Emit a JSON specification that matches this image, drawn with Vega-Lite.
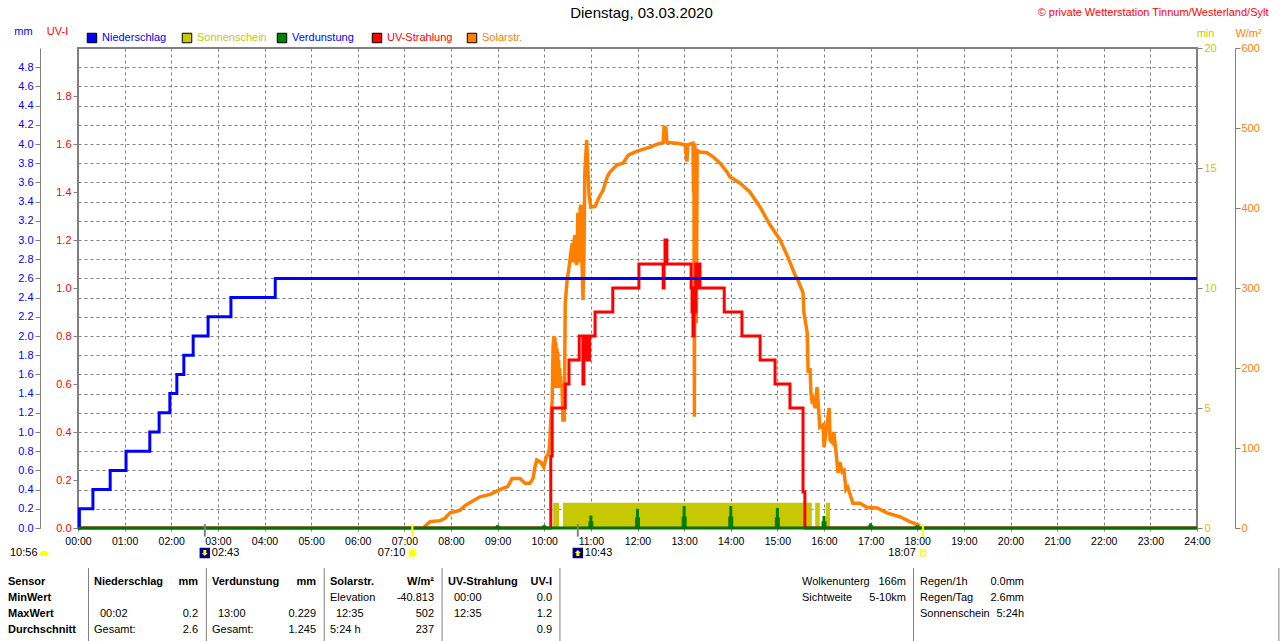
{
  "$schema": "https://vega.github.io/schema/vega-lite/v6.json",
  "autosize": {"type": "none"},
  "padding": {"left": 78, "top": 48, "right": 83, "bottom": 113},
  "width": 1119,
  "height": 480,
  "background": "#ffffff",
  "title": {"text": "Dienstag, 03.03.2020", "fontSize": 15, "fontWeight": "normal", "color": "#000000", "anchor": "middle", "dx": 4, "offset": -15},
  "datasets": {
    "precip": [
      {"h": 0, "mm": 0}, {"h": 0.03, "mm": 0.2}, {"h": 0.32, "mm": 0.4}, {"h": 0.69, "mm": 0.6}, {"h": 1.03, "mm": 0.8},
      {"h": 1.54, "mm": 1.0}, {"h": 1.74, "mm": 1.2}, {"h": 1.97, "mm": 1.4}, {"h": 2.12, "mm": 1.6}, {"h": 2.27, "mm": 1.8},
      {"h": 2.47, "mm": 2.0}, {"h": 2.79, "mm": 2.2}, {"h": 3.28, "mm": 2.4}, {"h": 4.23, "mm": 2.6}, {"h": 24, "mm": 2.6}
    ],
    "uv": [
      {"h": 0, "uv": 0}, {"h": 10.14, "uv": 0.3}, {"h": 10.17, "uv": 0.5}, {"h": 10.45, "uv": 0.6}, {"h": 10.53, "uv": 0.7},
      {"h": 10.75, "uv": 0.8}, {"h": 10.83, "uv": 0.6}, {"h": 10.85, "uv": 0.8}, {"h": 10.87, "uv": 0.7}, {"h": 10.89, "uv": 0.8},
      {"h": 10.91, "uv": 0.7}, {"h": 10.93, "uv": 0.8}, {"h": 10.95, "uv": 0.7}, {"h": 10.97, "uv": 0.8}, {"h": 11.09, "uv": 0.9},
      {"h": 11.47, "uv": 1.0}, {"h": 12.03, "uv": 1.1}, {"h": 12.55, "uv": 1.0}, {"h": 12.57, "uv": 1.1}, {"h": 12.59, "uv": 1.2},
      {"h": 12.63, "uv": 1.1}, {"h": 13.15, "uv": 1.0}, {"h": 13.17, "uv": 0.9}, {"h": 13.19, "uv": 0.8}, {"h": 13.21, "uv": 1.0},
      {"h": 13.23, "uv": 0.9}, {"h": 13.25, "uv": 1.1}, {"h": 13.28, "uv": 1.0}, {"h": 13.3, "uv": 1.1}, {"h": 13.34, "uv": 1.0},
      {"h": 13.86, "uv": 0.9}, {"h": 14.24, "uv": 0.8}, {"h": 14.63, "uv": 0.7}, {"h": 14.95, "uv": 0.6}, {"h": 15.27, "uv": 0.5},
      {"h": 15.55, "uv": 0.15}, {"h": 15.59, "uv": 0}, {"h": 24, "uv": 0}
    ],
    "solar": [
      {"h": 7.42, "w": 1}, {"h": 7.55, "w": 8}, {"h": 7.76, "w": 9}, {"h": 7.87, "w": 12}, {"h": 7.98, "w": 19}, {"h": 8.19, "w": 22},
      {"h": 8.3, "w": 28}, {"h": 8.41, "w": 32}, {"h": 8.62, "w": 39}, {"h": 8.84, "w": 42}, {"h": 9.05, "w": 48}, {"h": 9.22, "w": 52},
      {"h": 9.31, "w": 62}, {"h": 9.48, "w": 62}, {"h": 9.59, "w": 56}, {"h": 9.69, "w": 56}, {"h": 9.76, "w": 62}, {"h": 9.8, "w": 76},
      {"h": 9.84, "w": 85}, {"h": 9.93, "w": 82}, {"h": 9.99, "w": 76}, {"h": 10.04, "w": 88}, {"h": 10.1, "w": 95}, {"h": 10.12, "w": 110},
      {"h": 10.14, "w": 135}, {"h": 10.17, "w": 160}, {"h": 10.19, "w": 229}, {"h": 10.21, "w": 240}, {"h": 10.22, "w": 175}, {"h": 10.23, "w": 238},
      {"h": 10.24, "w": 175}, {"h": 10.25, "w": 232}, {"h": 10.26, "w": 175}, {"h": 10.27, "w": 225}, {"h": 10.28, "w": 175}, {"h": 10.29, "w": 220},
      {"h": 10.3, "w": 175}, {"h": 10.31, "w": 210}, {"h": 10.32, "w": 175}, {"h": 10.33, "w": 200}, {"h": 10.34, "w": 175}, {"h": 10.35, "w": 190},
      {"h": 10.36, "w": 175}, {"h": 10.38, "w": 180}, {"h": 10.4, "w": 135}, {"h": 10.43, "w": 135}, {"h": 10.45, "w": 281}, {"h": 10.49, "w": 310},
      {"h": 10.53, "w": 325}, {"h": 10.57, "w": 344}, {"h": 10.6, "w": 356}, {"h": 10.62, "w": 332}, {"h": 10.64, "w": 360}, {"h": 10.66, "w": 366},
      {"h": 10.68, "w": 332}, {"h": 10.7, "w": 329}, {"h": 10.72, "w": 394}, {"h": 10.75, "w": 332}, {"h": 10.77, "w": 400}, {"h": 10.79, "w": 404},
      {"h": 10.81, "w": 332}, {"h": 10.83, "w": 285}, {"h": 10.85, "w": 335}, {"h": 10.87, "w": 444}, {"h": 10.91, "w": 485}, {"h": 10.94, "w": 444},
      {"h": 10.96, "w": 416}, {"h": 11.0, "w": 401}, {"h": 11.09, "w": 402}, {"h": 11.15, "w": 410}, {"h": 11.2, "w": 416}, {"h": 11.26, "w": 422},
      {"h": 11.35, "w": 439}, {"h": 11.41, "w": 445}, {"h": 11.56, "w": 454}, {"h": 11.69, "w": 456}, {"h": 11.8, "w": 466}, {"h": 11.99, "w": 471},
      {"h": 12.27, "w": 476}, {"h": 12.44, "w": 480}, {"h": 12.55, "w": 482}, {"h": 12.57, "w": 501}, {"h": 12.61, "w": 500}, {"h": 12.63, "w": 482},
      {"h": 12.85, "w": 481}, {"h": 13.02, "w": 479}, {"h": 13.06, "w": 458}, {"h": 13.08, "w": 479}, {"h": 13.19, "w": 481}, {"h": 13.2, "w": 419},
      {"h": 13.21, "w": 481}, {"h": 13.22, "w": 139}, {"h": 13.23, "w": 481}, {"h": 13.24, "w": 344}, {"h": 13.25, "w": 470}, {"h": 13.26, "w": 256},
      {"h": 13.28, "w": 472}, {"h": 13.34, "w": 470}, {"h": 13.49, "w": 469},
      {"h": 13.62, "w": 464}, {"h": 13.77, "w": 456}, {"h": 13.92, "w": 445}, {"h": 13.98, "w": 439}, {"h": 14.2, "w": 431}, {"h": 14.41, "w": 420},
      {"h": 14.63, "w": 401}, {"h": 14.84, "w": 379}, {"h": 15.06, "w": 360}, {"h": 15.23, "w": 338}, {"h": 15.38, "w": 316}, {"h": 15.44, "w": 310},
      {"h": 15.55, "w": 294}, {"h": 15.57, "w": 269}, {"h": 15.64, "w": 244}, {"h": 15.66, "w": 194}, {"h": 15.7, "w": 200}, {"h": 15.72, "w": 169},
      {"h": 15.74, "w": 160}, {"h": 15.76, "w": 162}, {"h": 15.81, "w": 150}, {"h": 15.85, "w": 176}, {"h": 15.89, "w": 144}, {"h": 15.91, "w": 126},
      {"h": 15.98, "w": 129}, {"h": 16.0, "w": 101}, {"h": 16.11, "w": 150}, {"h": 16.13, "w": 110}, {"h": 16.19, "w": 106}, {"h": 16.21, "w": 120},
      {"h": 16.26, "w": 94}, {"h": 16.3, "w": 69}, {"h": 16.34, "w": 82}, {"h": 16.39, "w": 70}, {"h": 16.43, "w": 72}, {"h": 16.47, "w": 48},
      {"h": 16.51, "w": 51}, {"h": 16.58, "w": 38}, {"h": 16.62, "w": 31}, {"h": 16.77, "w": 31}, {"h": 16.92, "w": 26}, {"h": 17.14, "w": 25},
      {"h": 17.35, "w": 19}, {"h": 17.63, "w": 14}, {"h": 17.84, "w": 8}, {"h": 18.06, "w": 3}
    ],
    "sunshine": [
      {"h": 10.19, "h2": 10.32, "min": 1.05},
      {"h": 10.4, "h2": 15.74, "min": 1.05},
      {"h": 15.81, "h2": 15.91, "min": 1.05},
      {"h": 16.04, "h2": 16.13, "min": 1.05}
    ],
    "evap": [
      {"h": 9, "mm": 0.03, "low": 0.02}, {"h": 10, "mm": 0.03, "low": 0.02}, {"h": 11, "mm": 0.13, "low": 0.07}, {"h": 12, "mm": 0.2, "low": 0.11}, {"h": 13, "mm": 0.229, "low": 0.12},
      {"h": 14, "mm": 0.23, "low": 0.12}, {"h": 15, "mm": 0.21, "low": 0.11}, {"h": 16, "mm": 0.125, "low": 0.07}, {"h": 17, "mm": 0.05, "low": 0.03}, {"h": 18, "mm": 0.03, "low": 0.02}
    ],
    "events": [
      {"h": 2.72, "kind": "moon", "text": "02:43", "side": "after"},
      {"h": 10.72, "kind": "moon", "text": "10:43", "side": "after"},
      {"h": 7.17, "kind": "sun", "text": "07:10", "side": "before"},
      {"h": 18.12, "kind": "sun", "text": "18:07", "side": "before"}
    ],
    "series": [
      {"name": "Niederschlag", "swatch": "#0000ff", "label": "Blau"},
      {"name": "Sonnenschein", "swatch": "#c8c800", "label": "Oliv"},
      {"name": "Verdunstung", "swatch": "#008000", "label": "Blau"},
      {"name": "UV-Strahlung", "swatch": "#ff0000", "label": "Rot"},
      {"name": "Solarstr.", "swatch": "#ff8000", "label": "Orange"}
    ],
    "separators": [
      {"section": 1, "from": 0, "to": 1}, {"section": 2, "from": 0, "to": 1}, {"section": 3, "from": 0, "to": 1},
      {"section": 4, "from": 0, "to": 1}, {"section": 5, "from": 0, "to": 1}, {"section": 8, "from": 0, "to": 1},
      {"section": 11.1, "from": 0, "to": 1}
    ],
    "table": [
      {"block": "Sensor", "row": "Tag", "kind": "day", "text": "10:56"},
      {"block": "Sensor", "row": "Sensor", "kind": "rowhead", "text": "Sensor"},
      {"block": "Sensor", "row": "MinWert", "kind": "rowhead", "text": "MinWert"},
      {"block": "Sensor", "row": "MaxWert", "kind": "rowhead", "text": "MaxWert"},
      {"block": "Sensor", "row": "Durchschnitt", "kind": "rowhead", "text": "Durchschnitt"},
      {"block": "Niederschlag", "row": "Sensor", "kind": "head", "text": "Niederschlag"},
      {"block": "Niederschlag", "row": "Sensor", "kind": "unit", "text": "mm"},
      {"block": "Niederschlag", "row": "MaxWert", "kind": "time", "text": "00:02"},
      {"block": "Niederschlag", "row": "MaxWert", "kind": "value", "text": "0.2"},
      {"block": "Niederschlag", "row": "Durchschnitt", "kind": "cell", "text": "Gesamt:"},
      {"block": "Niederschlag", "row": "Durchschnitt", "kind": "value", "text": "2.6"},
      {"block": "Verdunstung", "row": "Sensor", "kind": "head", "text": "Verdunstung"},
      {"block": "Verdunstung", "row": "Sensor", "kind": "unit", "text": "mm"},
      {"block": "Verdunstung", "row": "MaxWert", "kind": "time", "text": "13:00"},
      {"block": "Verdunstung", "row": "MaxWert", "kind": "value", "text": "0.229"},
      {"block": "Verdunstung", "row": "Durchschnitt", "kind": "cell", "text": "Gesamt:"},
      {"block": "Verdunstung", "row": "Durchschnitt", "kind": "value", "text": "1.245"},
      {"block": "Solarstr.", "row": "Sensor", "kind": "head", "text": "Solarstr."},
      {"block": "Solarstr.", "row": "Sensor", "kind": "unit", "text": "W/m²"},
      {"block": "Solarstr.", "row": "MinWert", "kind": "cell", "text": "Elevation"},
      {"block": "Solarstr.", "row": "MinWert", "kind": "value", "text": "-40.813"},
      {"block": "Solarstr.", "row": "MaxWert", "kind": "time", "text": "12:35"},
      {"block": "Solarstr.", "row": "MaxWert", "kind": "value", "text": "502"},
      {"block": "Solarstr.", "row": "Durchschnitt", "kind": "cell", "text": "5:24 h"},
      {"block": "Solarstr.", "row": "Durchschnitt", "kind": "value", "text": "237"},
      {"block": "UV-Strahlung", "row": "Sensor", "kind": "head", "text": "UV-Strahlung"},
      {"block": "UV-Strahlung", "row": "Sensor", "kind": "unit", "text": "UV-I"},
      {"block": "UV-Strahlung", "row": "MinWert", "kind": "time", "text": "00:00"},
      {"block": "UV-Strahlung", "row": "MinWert", "kind": "value", "text": "0.0"},
      {"block": "UV-Strahlung", "row": "MaxWert", "kind": "time", "text": "12:35"},
      {"block": "UV-Strahlung", "row": "MaxWert", "kind": "value", "text": "1.2"},
      {"block": "UV-Strahlung", "row": "Durchschnitt", "kind": "value", "text": "0.9"},
      {"block": "Wolken", "row": "Sensor", "kind": "cell", "text": "Wolkenunterg"},
      {"block": "Wolken", "row": "Sensor", "kind": "value", "text": "166m"},
      {"block": "Wolken", "row": "MinWert", "kind": "cell", "text": "Sichtweite"},
      {"block": "Wolken", "row": "MinWert", "kind": "value", "text": "5-10km"},
      {"block": "Regen", "row": "Sensor", "kind": "cell", "text": "Regen/1h"},
      {"block": "Regen", "row": "Sensor", "kind": "value", "text": "0.0mm"},
      {"block": "Regen", "row": "MinWert", "kind": "cell", "text": "Regen/Tag"},
      {"block": "Regen", "row": "MinWert", "kind": "value", "text": "2.6mm"},
      {"block": "Regen", "row": "MaxWert", "kind": "cell", "text": "Sonnenschein"},
      {"block": "Regen", "row": "MaxWert", "kind": "value", "text": "5:24h"}
    ]
  },
  "resolve": {
    "scale": {"x": "independent", "y": "independent", "color": "independent"},
    "axis": {"x": "independent", "y": "independent"}
  },
  "layer": [
    {
      "data": {"name": "sunshine"},
      "mark": {"type": "rect", "color": "#c8c800"},
      "encoding": {
        "x": {"field": "h", "type": "quantitative", "scale": {"domain": [0, 24]}, "axis": null},
        "x2": {"field": "h2"},
        "y": {
          "field": "min", "type": "quantitative", "scale": {"domain": [0, 20]},
          "axis": {
            "orient": "right", "values": [0, 5, 10, 15, 20], "title": "min", "titleAngle": 0, "titleColor": "#c8c800",
            "titleX": 8, "titleY": -10, "titleFontWeight": "normal", "titleFontSize": 11, "titleAlign": "center",
            "labelColor": "#c8c800", "tickColor": "#808080", "tickSize": 5, "domain": false, "grid": false, "labelPadding": 2
          }
        },
        "y2": {"datum": 0}
      }
    },
    {
      "data": {"name": "solar"},
      "mark": {"type": "line", "color": "#ff8000", "strokeWidth": 3.5, "interpolate": "linear"},
      "encoding": {
        "x": {"field": "h", "type": "quantitative", "scale": {"domain": [0, 24]}, "axis": null},
        "y": {
          "field": "w", "type": "quantitative", "scale": {"domain": [0, 600]},
          "axis": {
            "orient": "right", "offset": 38, "values": [0, 100, 200, 300, 400, 500, 600], "title": "W/m²", "titleAngle": 0, "titleColor": "#ff8000",
            "titleX": 13, "titleY": -10, "titleFontWeight": "normal", "titleFontSize": 11, "titleAlign": "center",
            "labelColor": "#ff8000", "tickColor": "#808080", "tickSize": 5, "domain": true, "domainColor": "#808080", "grid": false, "labelPadding": 1
          }
        }
      }
    },
    {
      "data": {"name": "uv"},
      "mark": {"type": "line", "color": "#ff0000", "strokeWidth": 3, "interpolate": "step-after"},
      "encoding": {
        "x": {"field": "h", "type": "quantitative", "scale": {"domain": [0, 24]}, "axis": null},
        "y": {
          "field": "uv", "type": "quantitative", "scale": {"domain": [0, 2]},
          "axis": {
            "orient": "left", "values": [0, 0.2, 0.4, 0.6, 0.8, 1.0, 1.2, 1.4, 1.6, 1.8], "format": ".1f", "title": "UV-I", "titleAngle": 0, "titleColor": "#ff0000",
            "titleX": -21, "titleY": -12, "titleFontWeight": "normal", "titleFontSize": 11, "titleAlign": "center",
            "labelColor": "#ff0000", "tickColor": "#808080", "tickSize": 5, "domain": false, "grid": false, "labelPadding": 2
          }
        }
      }
    },
    {
      "data": {"name": "precip"},
      "mark": {"type": "line", "color": "#0000ff", "strokeWidth": 3, "interpolate": "step-after"},
      "encoding": {
        "x": {
          "field": "h", "type": "quantitative", "scale": {"domain": [0, 24]},
          "axis": {
            "values": [0, 1, 2, 3, 4, 5, 6, 7, 8, 9, 10, 11, 12, 13, 14, 15, 16, 17, 18, 19, 20, 21, 22, 23, 24],
            "labelExpr": "(datum.value < 10 ? '0' : '') + datum.value + ':00'",
            "labelColor": "#000000", "labelFontSize": 10.5, "labelPadding": 5, "labelFlush": false, "labelOverlap": false,
            "tickColor": "#808080", "tickSize": 3, "domain": false, "title": null,
            "grid": true, "gridColor": "#808080", "gridDash": [3, 3], "gridWidth": 1
          }
        },
        "y": {
          "field": "mm", "type": "quantitative", "scale": {"domain": [0, 5]},
          "axis": {
            "orient": "left", "offset": 38, "format": ".1f",
            "values": [0, 0.2, 0.4, 0.6, 0.8, 1.0, 1.2, 1.4, 1.6, 1.8, 2.0, 2.2, 2.4, 2.6, 2.8, 3.0, 3.2, 3.4, 3.6, 3.8, 4.0, 4.2, 4.4, 4.6, 4.8],
            "title": "mm", "titleAngle": 0, "titleColor": "#0000ff", "titleX": -17, "titleY": -12, "titleFontWeight": "normal", "titleFontSize": 11, "titleAlign": "center",
            "labelColor": "#0000ff", "labelOverlap": false, "tickColor": "#808080", "tickSize": 5, "domain": true, "domainColor": "#808080", "grid": false, "labelPadding": 2
          }
        }
      }
    },
    {
      "data": {"name": "evap"},
      "mark": {"type": "rule", "color": "#008000", "strokeWidth": 3},
      "encoding": {
        "x": {"field": "h", "type": "quantitative", "scale": {"domain": [0, 24]}, "axis": null},
        "y": {"field": "mm", "type": "quantitative", "scale": {"domain": [0, 5]}, "axis": null},
        "y2": {"datum": 0}
      }
    },
    {
      "data": {"name": "evap"},
      "mark": {"type": "rule", "color": "#008000", "strokeWidth": 5},
      "encoding": {
        "x": {"field": "h", "type": "quantitative", "scale": {"domain": [0, 24]}, "axis": null},
        "y": {"field": "low", "type": "quantitative", "scale": {"domain": [0, 5]}, "axis": null},
        "y2": {"datum": 0}
      }
    },
    {
      "data": {"values": [{"h": 0, "h2": 24, "mm": 0}]},
      "mark": {"type": "rule", "color": "#007000", "strokeWidth": 3},
      "encoding": {
        "x": {
          "field": "h", "type": "quantitative", "scale": {"domain": [0, 24]},
          "axis": {
            "orient": "top", "labels": false, "ticks": false, "domain": false, "grid": false,
            "title": "© private Wetterstation Tinnum/Westerland/Sylt", "titleColor": "#ff0000", "titleFontWeight": "normal", "titleFontSize": 11,
            "titleAlign": "right", "titleAnchor": "end", "titleX": 1190, "titleY": -31
          }
        },
        "x2": {"field": "h2"},
        "y": {
          "field": "mm", "type": "quantitative", "scale": {"domain": [0, 5]},
          "axis": {
            "orient": "left", "labels": false, "ticks": false, "domain": false, "title": null,
            "values": [0.2, 0.4, 0.6, 0.8, 1.0, 1.2, 1.4, 1.6, 1.8, 2.0, 2.2, 2.4, 2.6, 2.8, 3.0, 3.2, 3.4, 3.6, 3.8, 4.0, 4.2, 4.4, 4.6, 4.8],
            "grid": true, "gridColor": "#808080", "gridDash": [3, 3], "gridWidth": 1
          }
        }
      }
    },
    {
      "data": {"name": "events"},
      "mark": {"type": "rule", "strokeWidth": 2},
      "encoding": {
        "x": {"field": "h", "type": "quantitative", "scale": {"domain": [0, 24]}, "axis": null},
        "y": {"datum": 0.04, "type": "quantitative", "scale": {"domain": [0, 5]}, "axis": null},
        "y2": {"datum": -0.09},
        "color": {"field": "kind", "type": "nominal", "scale": {"domain": ["moon", "sun"], "range": ["#808080", "#ffff00"]}, "legend": null}
      }
    },
    {
      "data": {"name": "events"},
      "transform": [{"filter": "datum.kind == 'moon'"}],
      "mark": {"type": "point", "shape": "square", "filled": true, "color": "#000080", "size": 110, "opacity": 1},
      "encoding": {
        "x": {"field": "h", "type": "quantitative", "scale": {"domain": [0, 24]}, "axis": null},
        "y": {"field": "kind", "type": "nominal", "scale": {"domain": ["moon"], "range": [505, 505]}, "axis": null}
      }
    },
    {
      "data": {"values": [{"h": 2.72, "icon": "moonset"}]},
      "mark": {"type": "point", "shape": "M-0.5,-1L0.5,-1L0.5,0L1,0L0,1L-1,0L-0.5,0Z", "filled": true, "color": "#ffff00", "size": 36, "opacity": 1},
      "encoding": {
        "x": {"field": "h", "type": "quantitative", "scale": {"domain": [0, 24]}, "axis": null},
        "y": {"field": "icon", "type": "nominal", "scale": {"domain": ["moonset"], "range": [505, 505]}, "axis": null}
      }
    },
    {
      "data": {"values": [{"h": 10.72, "icon": "moonrise"}]},
      "mark": {"type": "point", "shape": "M-0.5,1L0.5,1L0.5,0L1,0L0,-1L-1,0L-0.5,0Z", "filled": true, "color": "#ffff00", "size": 36, "opacity": 1},
      "encoding": {
        "x": {"field": "h", "type": "quantitative", "scale": {"domain": [0, 24]}, "axis": null},
        "y": {"field": "icon", "type": "nominal", "scale": {"domain": ["moonrise"], "range": [505, 505]}, "axis": null}
      }
    },
    {
      "data": {"values": [{"h": 7.17, "icon": "sunrise"}]},
      "mark": {"type": "point", "shape": "circle", "filled": true, "color": "#ffff00", "size": 50, "opacity": 1},
      "encoding": {
        "x": {"field": "h", "type": "quantitative", "scale": {"domain": [0, 24]}, "axis": null},
        "y": {"field": "icon", "type": "nominal", "scale": {"domain": ["sunrise"], "range": [505, 505]}, "axis": null}
      }
    },
    {
      "data": {"values": [{"h": 7.17, "icon": "rays"}]},
      "mark": {"type": "point", "shape": "M0,-1L0,1M-1,0L1,0M-0.7,-0.7L0.7,0.7M-0.7,0.7L0.7,-0.7", "filled": false, "color": "#ffff00", "size": 130, "strokeWidth": 1, "opacity": 1},
      "encoding": {
        "x": {"field": "h", "type": "quantitative", "scale": {"domain": [0, 24]}, "axis": null},
        "y": {"field": "icon", "type": "nominal", "scale": {"domain": ["rays"], "range": [505, 505]}, "axis": null}
      }
    },
    {
      "data": {"values": [{"h": 18.12, "icon": "sunset"}]},
      "mark": {"type": "point", "shape": "square", "filled": false, "color": "#ffff00", "size": 28, "strokeWidth": 1.5, "opacity": 1},
      "encoding": {
        "x": {"field": "h", "type": "quantitative", "scale": {"domain": [0, 24]}, "axis": null},
        "y": {"field": "icon", "type": "nominal", "scale": {"domain": ["sunset"], "range": [505, 505]}, "axis": null}
      }
    },
    {
      "data": {"name": "events"},
      "transform": [{"filter": "datum.side == 'after'"}],
      "mark": {"type": "text", "align": "left", "baseline": "middle", "dx": 7, "fontSize": 11, "color": "#000000"},
      "encoding": {
        "x": {"field": "h", "type": "quantitative", "scale": {"domain": [0, 24]}, "axis": null},
        "y": {"field": "side", "type": "nominal", "scale": {"domain": ["after"], "range": [505, 505]}, "axis": null},
        "text": {"field": "text", "type": "nominal"}
      }
    },
    {
      "data": {"name": "events"},
      "transform": [{"filter": "datum.side == 'before'"}],
      "mark": {"type": "text", "align": "right", "baseline": "middle", "dx": -7, "fontSize": 11, "color": "#000000"},
      "encoding": {
        "x": {"field": "h", "type": "quantitative", "scale": {"domain": [0, 24]}, "axis": null},
        "y": {"field": "side", "type": "nominal", "scale": {"domain": ["before"], "range": [505, 505]}, "axis": null},
        "text": {"field": "text", "type": "nominal"}
      }
    },
    {
      "data": {"name": "series"},
      "mark": {"type": "point", "shape": "square", "filled": true, "size": 90, "stroke": "#000000", "strokeWidth": 1, "opacity": 1},
      "encoding": {
        "x": {"field": "name", "type": "nominal", "sort": null, "scale": {"domain": ["Niederschlag", "Sonnenschein", "Verdunstung", "UV-Strahlung", "Solarstr."], "range": [14, 394], "padding": 0}, "axis": null},
        "y": {"datum": "Legende", "type": "nominal", "scale": {"domain": ["Legende"], "range": [-10, -10]}, "axis": null},
        "fill": {"field": "swatch", "type": "nominal", "scale": null}
      }
    },
    {
      "data": {"name": "series"},
      "mark": {"type": "text", "align": "left", "baseline": "middle", "dx": 10, "fontSize": 11},
      "encoding": {
        "x": {"field": "name", "type": "nominal", "sort": null, "scale": {"domain": ["Niederschlag", "Sonnenschein", "Verdunstung", "UV-Strahlung", "Solarstr."], "range": [14, 394], "padding": 0}, "axis": null},
        "y": {"datum": "Legende", "type": "nominal", "scale": {"domain": ["Legende"], "range": [-10, -10]}, "axis": null},
        "text": {"field": "name", "type": "nominal"},
        "color": {"field": "label", "type": "nominal", "scale": {"domain": ["Blau", "Oliv", "Rot", "Orange"], "range": ["#0000ff", "#c8c800", "#ff0000", "#ff8000"]}, "legend": null}
      }
    },
    {
      "data": {"name": "separators"},
      "mark": {"type": "rule", "color": "#808080", "strokeWidth": 1},
      "encoding": {
        "x": {"field": "section", "type": "quantitative", "scale": {"domain": [1, 8], "range": [10.5, 835.5], "zero": false}, "axis": null},
        "y": {"field": "from", "type": "quantitative", "scale": {"domain": [0, 1], "range": [520, 593], "zero": false}, "axis": null},
        "y2": {"field": "to"}
      }
    },
    {
      "data": {"name": "table"},
      "transform": [{"filter": "datum.kind == 'rowhead'"}],
      "mark": {"type": "text", "align": "left", "baseline": "middle", "dx": 32, "fontSize": 11, "fontWeight": "bold", "color": "#000000"},
      "encoding": {
        "x": {"field": "block", "type": "nominal", "scale": {"domain": ["Sensor", "Niederschlag", "Verdunstung", "Solarstr.", "UV-Strahlung", "leer1", "leer2", "Wolken", "Regen"], "range": [-102, 842], "padding": 0}, "axis": null},
        "y": {"field": "row", "type": "nominal", "scale": {"domain": ["Tag", "leer", "Sensor", "MinWert", "MaxWert", "Durchschnitt"], "range": [502, 582], "padding": 0}, "axis": null},
        "text": {"field": "text", "type": "nominal"}
      }
    },
    {
      "data": {"name": "table"},
      "transform": [{"filter": "datum.kind == 'day'"}],
      "mark": {"type": "text", "align": "left", "baseline": "middle", "dx": 34, "dy": 3, "fontSize": 11, "color": "#000000"},
      "encoding": {
        "x": {"field": "block", "type": "nominal", "scale": {"domain": ["Sensor", "Niederschlag", "Verdunstung", "Solarstr.", "UV-Strahlung", "leer1", "leer2", "Wolken", "Regen"], "range": [-102, 842], "padding": 0}, "axis": null},
        "y": {"field": "row", "type": "nominal", "scale": {"domain": ["Tag", "leer", "Sensor", "MinWert", "MaxWert", "Durchschnitt"], "range": [502, 582], "padding": 0}, "axis": null},
        "text": {"field": "text", "type": "nominal"}
      }
    },
    {
      "data": {"name": "table"},
      "transform": [{"filter": "datum.kind == 'day'"}],
      "mark": {"type": "point", "shape": "M-1,0.6A1,1 0 0 1 1,0.6Z", "filled": true, "color": "#ffff00", "size": 90, "opacity": 1, "xOffset": 68, "yOffset": 3},
      "encoding": {
        "x": {"field": "block", "type": "nominal", "scale": {"domain": ["Sensor", "Niederschlag", "Verdunstung", "Solarstr.", "UV-Strahlung", "leer1", "leer2", "Wolken", "Regen"], "range": [-102, 842], "padding": 0}, "axis": null},
        "y": {"field": "row", "type": "nominal", "scale": {"domain": ["Tag", "leer", "Sensor", "MinWert", "MaxWert", "Durchschnitt"], "range": [502, 582], "padding": 0}, "axis": null}
      }
    },
    {
      "data": {"name": "table"},
      "transform": [{"filter": "datum.kind == 'head'"}],
      "mark": {"type": "text", "align": "left", "baseline": "middle", "fontSize": 11, "fontWeight": "bold", "color": "#000000"},
      "encoding": {
        "x": {"field": "block", "type": "nominal", "scale": {"domain": ["Sensor", "Niederschlag", "Verdunstung", "Solarstr.", "UV-Strahlung", "leer1", "leer2", "Wolken", "Regen"], "range": [-102, 842], "padding": 0}, "axis": null},
        "y": {"field": "row", "type": "nominal", "scale": {"domain": ["Tag", "leer", "Sensor", "MinWert", "MaxWert", "Durchschnitt"], "range": [502, 582], "padding": 0}, "axis": null},
        "text": {"field": "text", "type": "nominal"}
      }
    },
    {
      "data": {"name": "table"},
      "transform": [{"filter": "datum.kind == 'unit'"}],
      "mark": {"type": "text", "align": "right", "baseline": "middle", "dx": 104, "fontSize": 11, "fontWeight": "bold", "color": "#000000"},
      "encoding": {
        "x": {"field": "block", "type": "nominal", "scale": {"domain": ["Sensor", "Niederschlag", "Verdunstung", "Solarstr.", "UV-Strahlung", "leer1", "leer2", "Wolken", "Regen"], "range": [-102, 842], "padding": 0}, "axis": null},
        "y": {"field": "row", "type": "nominal", "scale": {"domain": ["Tag", "leer", "Sensor", "MinWert", "MaxWert", "Durchschnitt"], "range": [502, 582], "padding": 0}, "axis": null},
        "text": {"field": "text", "type": "nominal"}
      }
    },
    {
      "data": {"name": "table"},
      "transform": [{"filter": "datum.kind == 'cell'"}],
      "mark": {"type": "text", "align": "left", "baseline": "middle", "fontSize": 11, "color": "#000000"},
      "encoding": {
        "x": {"field": "block", "type": "nominal", "scale": {"domain": ["Sensor", "Niederschlag", "Verdunstung", "Solarstr.", "UV-Strahlung", "leer1", "leer2", "Wolken", "Regen"], "range": [-102, 842], "padding": 0}, "axis": null},
        "y": {"field": "row", "type": "nominal", "scale": {"domain": ["Tag", "leer", "Sensor", "MinWert", "MaxWert", "Durchschnitt"], "range": [502, 582], "padding": 0}, "axis": null},
        "text": {"field": "text", "type": "nominal"}
      }
    },
    {
      "data": {"name": "table"},
      "transform": [{"filter": "datum.kind == 'time'"}],
      "mark": {"type": "text", "align": "left", "baseline": "middle", "dx": 6, "fontSize": 11, "color": "#000000"},
      "encoding": {
        "x": {"field": "block", "type": "nominal", "scale": {"domain": ["Sensor", "Niederschlag", "Verdunstung", "Solarstr.", "UV-Strahlung", "leer1", "leer2", "Wolken", "Regen"], "range": [-102, 842], "padding": 0}, "axis": null},
        "y": {"field": "row", "type": "nominal", "scale": {"domain": ["Tag", "leer", "Sensor", "MinWert", "MaxWert", "Durchschnitt"], "range": [502, 582], "padding": 0}, "axis": null},
        "text": {"field": "text", "type": "nominal"}
      }
    },
    {
      "data": {"name": "table"},
      "transform": [{"filter": "datum.kind == 'value'"}],
      "mark": {"type": "text", "align": "right", "baseline": "middle", "dx": 104, "fontSize": 11, "color": "#000000"},
      "encoding": {
        "x": {"field": "block", "type": "nominal", "scale": {"domain": ["Sensor", "Niederschlag", "Verdunstung", "Solarstr.", "UV-Strahlung", "leer1", "leer2", "Wolken", "Regen"], "range": [-102, 842], "padding": 0}, "axis": null},
        "y": {"field": "row", "type": "nominal", "scale": {"domain": ["Tag", "leer", "Sensor", "MinWert", "MaxWert", "Durchschnitt"], "range": [502, 582], "padding": 0}, "axis": null},
        "text": {"field": "text", "type": "nominal"}
      }
    }
  ],
  "config": {
    "font": "Liberation Sans",
    "view": {"stroke": "#808080", "strokeWidth": 2},
    "axis": {"labelFontSize": 11, "labelFont": "Liberation Sans", "titleFont": "Liberation Sans"}
  }
}
